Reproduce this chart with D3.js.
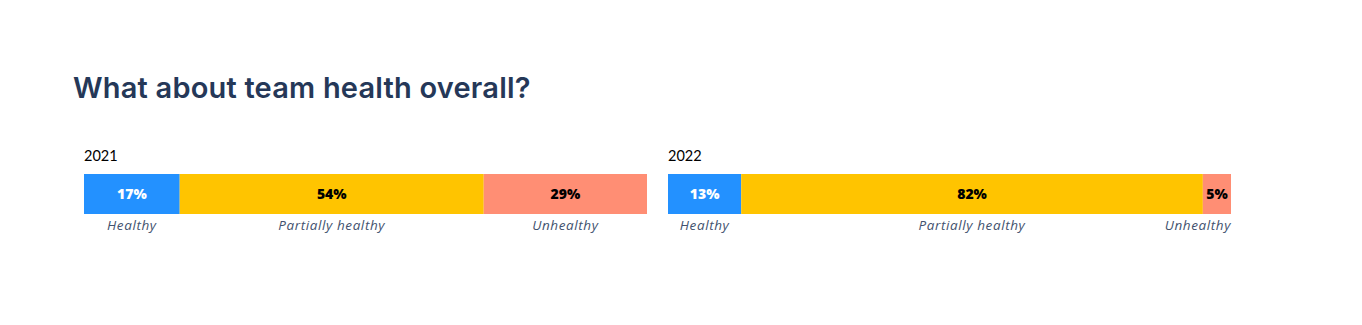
<!DOCTYPE html>
<html>
<head>
<meta charset="utf-8">
<script src="https://cdn.jsdelivr.net/npm/d3@7/dist/d3.min.js"></script>
<style>
  html, body { margin: 0; padding: 0; background: #fff; }
  svg { display: block; }
</style>
</head>
<body>
<svg id="chart" width="1362" height="325"></svg>
<script>
// Survey breakdown of team health, one stacked bar per year
const years = ["2021", "2022"];
const categories = ["Healthy", "Partially healthy", "Unhealthy"];
const values2021 = [17, 54, 29];
const values2022 = [13, 82, 5];
const seriesValues = [values2021, values2022];
const colors = ["#2391FF", "#FFC400", "#FF8E74"];
const valueTextColors = ["#FFFFFF", "#000000", "#000000"];

const svg = d3.select("#chart");

svg.append("text")
  .attr("x", 73)
  .attr("y", 98)
  .attr("font-family", "Inter, 'Open Sans', sans-serif")
  .attr("font-weight", 600)
  .attr("font-size", 29)
  .attr("letter-spacing", 0.2)
  .attr("fill", "#253858")
  .text("What about team health overall?");

const panel = d3.scaleBand()
  .domain(years)
  .range([84, 1231])
  .paddingInner(21 / 584);

const barTop = 174, barHeight = 40;

years.forEach((year, yi) => {
  const x0 = panel(year);
  const w = panel.bandwidth();
  const x = d3.scaleLinear().domain([0, 100]).range([x0, x0 + w]);
  const vals = seriesValues[yi];
  const starts = d3.cumsum([0].concat(vals)).slice(0, vals.length);
  const segs = categories.map((c, i) => ({
    cat: c, value: vals[i], start: starts[i], end: starts[i] + vals[i], i
  }));

  const g = svg.append("g");

  g.append("text")
    .attr("x", x0)
    .attr("y", 161)
    .attr("font-family", "Lato, 'Open Sans', sans-serif")
    .attr("font-size", 14.5)
    .attr("fill", "#000")
    .text(year);

  g.selectAll("rect")
    .data(segs)
    .join("rect")
    .attr("x", d => x(d.start))
    .attr("y", barTop)
    .attr("width", d => x(d.end) - x(d.start))
    .attr("height", barHeight)
    .attr("fill", d => colors[d.i]);

  g.selectAll("text.val")
    .data(segs)
    .join("text")
    .attr("class", "val")
    .attr("x", d => (x(d.start) + x(d.end)) / 2)
    .attr("y", barTop + barHeight / 2 + 5)
    .attr("text-anchor", "middle")
    .attr("font-family", "'Open Sans', Lato, sans-serif")
    .attr("font-weight", 800)
    .attr("font-size", 14)
    .attr("fill", d => valueTextColors[d.i])
    .text(d => d.value + "%");

  const labels = g.selectAll("text.cat")
    .data(segs)
    .join("text")
    .attr("class", "cat")
    .attr("y", 230)
    .attr("text-anchor", "middle")
    .attr("font-family", "'Open Sans', Lato, sans-serif")
    .attr("font-style", "italic")
    .attr("font-size", 13.5)
    .attr("letter-spacing", 0.6)
    .attr("fill", "#42526E")
    .text(d => d.cat);

  // keep each category label inside its bar's extent
  labels.each(function(d) {
    const half = this.getComputedTextLength() / 2;
    let cx = (x(d.start) + x(d.end)) / 2;
    cx = Math.max(x0 + half, Math.min(x0 + w - half, cx));
    d3.select(this).attr("x", cx);
  });
});
</script>
</body>
</html>
